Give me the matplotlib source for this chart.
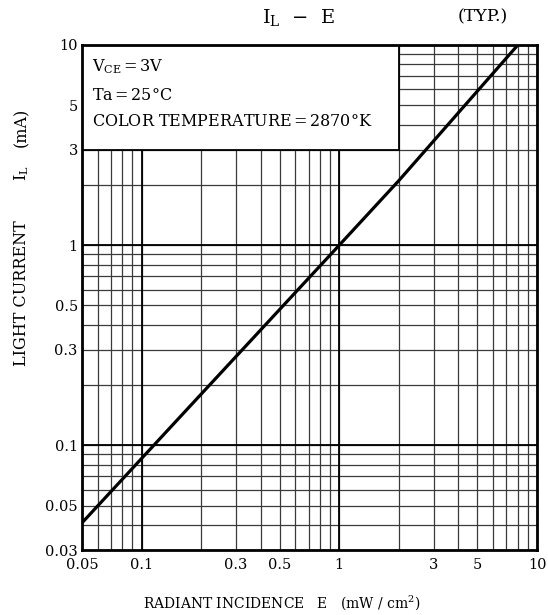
import matplotlib
matplotlib.use("Agg")
import matplotlib.pyplot as plt
import numpy as np
from matplotlib.ticker import FixedLocator, LogLocator, NullFormatter, FixedFormatter
from matplotlib.patches import Rectangle

# data
E_vals = [0.05, 0.2, 1.0, 2.0, 8.0]
IL_vals = [0.041, 0.18, 1.0, 2.1, 10.0]

x_ticks = [0.05, 0.1, 0.3, 0.5, 1, 3, 5, 10]
x_ticklabels = ["0.05", "0.1", "0.3", "0.5", "1", "3", "5", "10"]
y_ticks = [0.03, 0.05, 0.1, 0.3, 0.5, 1, 3, 5, 10]
y_ticklabels = ["0.03", "0.05", "0.1", "0.3", "0.5", "1", "3", "5", "10"]

conditions = [r"V$_{\mathregular{CE}}$$\,$=$\,$3V", "Ta$\\,$=$\\,$25°C",
              "COLOR TEMPERATURE$\\,$=$\\,$2870°K"]

plt.rcParams['font.family'] = ['DejaVu Serif']
plt.rcParams['mathtext.fontset'] = 'dejavuserif'

fig = plt.figure(figsize=(5.48, 6.15), dpi=100)
W, H = 548, 615
L, R, T, B = 82, 537, 45, 550
ax = fig.add_axes([L / W, 1 - B / H, (R - L) / W, (B - T) / H])
ax.set_xscale('log')
ax.set_yscale('log')
ax.set_xlim(0.05, 10)
ax.set_ylim(0.03, 10)

ax.xaxis.set_major_locator(FixedLocator(x_ticks))
ax.xaxis.set_major_formatter(FixedFormatter(x_ticklabels))
ax.yaxis.set_major_locator(FixedLocator(y_ticks))
ax.yaxis.set_major_formatter(FixedFormatter(y_ticklabels))
ax.xaxis.set_minor_locator(LogLocator(base=10, subs=np.arange(2, 10)))
ax.yaxis.set_minor_locator(LogLocator(base=10, subs=np.arange(2, 10)))
ax.xaxis.set_minor_formatter(NullFormatter())
ax.yaxis.set_minor_formatter(NullFormatter())

ax.tick_params(which='both', length=0, labelsize=10.5, colors='black')
ax.tick_params(axis='x', pad=6)
ax.tick_params(axis='y', pad=3)

ax.set_axisbelow(True)
ax.grid(which='both', color='#3a3a3a', linewidth=0.9)
for v in [0.1, 1]:
    ax.axvline(v, color='black', lw=1.3, zorder=0.6)
    ax.axhline(v, color='black', lw=1.3, zorder=0.6)

for s in ax.spines.values():
    s.set_linewidth(2.0)
    s.set_color('black')

# condition box covering grid in upper-left
ax.add_patch(Rectangle((0.05, 3), 2 - 0.05, 10 - 3, facecolor='white',
                       edgecolor='black', lw=1.3, zorder=1))
for txt, ypix in zip(conditions, [67, 95, 122]):
    ax.text(0.022, 1 - (ypix - T) / (B - T), txt, transform=ax.transAxes,
            fontsize=11.5, va='center', ha='left', zorder=2)

ax.plot(E_vals, IL_vals, color='black', lw=2.3, zorder=3, solid_capstyle='butt')

fig.text(299 / W, 1 - 18 / H, r"I$_{\mathregular{L}}$  $-$  E", ha='center', va='center', fontsize=14)
fig.text(483 / W, 1 - 17 / H, "(TYP.)", ha='center', va='center', fontsize=12.5)
fig.text(282 / W, 1 - 603 / H, r"RADIANT INCIDENCE   E   (mW / cm$^{\mathregular{2}}$)",
         ha='center', va='center', fontsize=10)
fig.text(22 / W, 1 - 293 / H, "LIGHT CURRENT", ha='center', va='center',
         rotation=90, fontsize=11.5)
fig.text(22 / W, 1 - 173 / H, r"I$_{\mathregular{L}}$", ha='center', va='center',
         rotation=90, fontsize=11.5)
fig.text(22 / W, 1 - 127 / H, "(mA)", ha='center', va='center',
         rotation=90, fontsize=11.5)

fig.savefig("out.png", dpi=100)
